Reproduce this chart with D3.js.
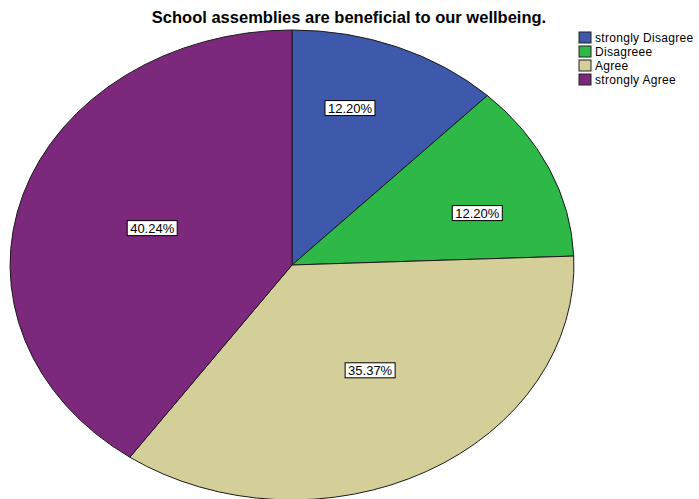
<!DOCTYPE html>
<html>
<head>
<meta charset="utf-8">
<script src="https://cdn.jsdelivr.net/npm/d3@7"></script>
<style>
body { margin: 0; background: #fff; }
svg { display: block; font-family: "Liberation Sans", Arial, sans-serif; }
</style>
</head>
<body>
<svg id="chart" width="699" height="499"></svg>
<script>
// answer categories, counts (n = 82) and shown percent labels
var categories = ["strongly Disagree", "Disagreee", "Agree", "strongly Agree"];
var counts = [10, 10, 29, 33];
var percentLabels = ["12.20%", "12.20%", "35.37%", "40.24%"];
var colors = ["#3e58ac", "#2eb848", "#d4ce98", "#7c287d"];
var title = "School assemblies are beneficial to our wellbeing.";

var svg = d3.select("#chart");
var cx = 292, cy = 265, rx = 282, ry = 235;

// label placement as fraction of the radii (x, y), per slice
var labelFrac = [[0.55, 0.72], [0.72, 0.54], [0.58, 0.51], [0.52, 0.52]];

svg.append("text")
	.attr("x", 349)
	.attr("y", 23)
	.attr("text-anchor", "middle")
	.style("font-size", "16.5px")
	.style("font-weight", "bold")
	.text(title);

var pie = d3.pie().sort(null).value(function(d) { return d; });
var arcs = pie(counts);
var arc = d3.arc().innerRadius(0).outerRadius(1);

var g = svg.append("g")
	.attr("transform", "translate(" + cx + "," + cy + ") scale(" + rx + "," + ry + ")");

g.selectAll("path")
	.data(arcs)
	.enter()
	.append("path")
	.attr("d", arc)
	.attr("fill", function(d, i) { return colors[i]; })
	.attr("stroke", "#1a1a1a")
	.attr("stroke-width", 1)
	.attr("vector-effect", "non-scaling-stroke");

var labels = svg.append("g").selectAll("g")
	.data(arcs)
	.enter()
	.append("g")
	.attr("transform", function(d, i) {
		var a = (d.startAngle + d.endAngle) / 2;
		var x = cx + Math.sin(a) * rx * labelFrac[i][0];
		var y = cy - Math.cos(a) * ry * labelFrac[i][1];
		return "translate(" + x + "," + y + ")";
	});

labels.append("rect")
	.attr("x", -25)
	.attr("y", -7.5)
	.attr("width", 50)
	.attr("height", 15)
	.attr("fill", "#fff")
	.attr("stroke", "#000")
	.attr("stroke-width", 1);

labels.append("text")
	.attr("text-anchor", "middle")
	.attr("dy", "0.36em")
	.style("font-size", "13px")
	.text(function(d, i) { return percentLabels[i]; });

// legend
var legend = svg.append("g").selectAll("g")
	.data(categories)
	.enter()
	.append("g")
	.attr("transform", function(d, i) { return "translate(579," + (32 + i * 14) + ")"; });

legend.append("rect")
	.attr("width", 12)
	.attr("height", 11)
	.attr("fill", function(d, i) { return colors[i]; })
	.attr("stroke", "#222")
	.attr("stroke-width", 1);

legend.append("text")
	.attr("x", 16)
	.attr("y", 10)
	.style("font-size", "12px")
	.style("letter-spacing", "0.3px")
	.text(function(d) { return d; });
</script>
</body>
</html>
